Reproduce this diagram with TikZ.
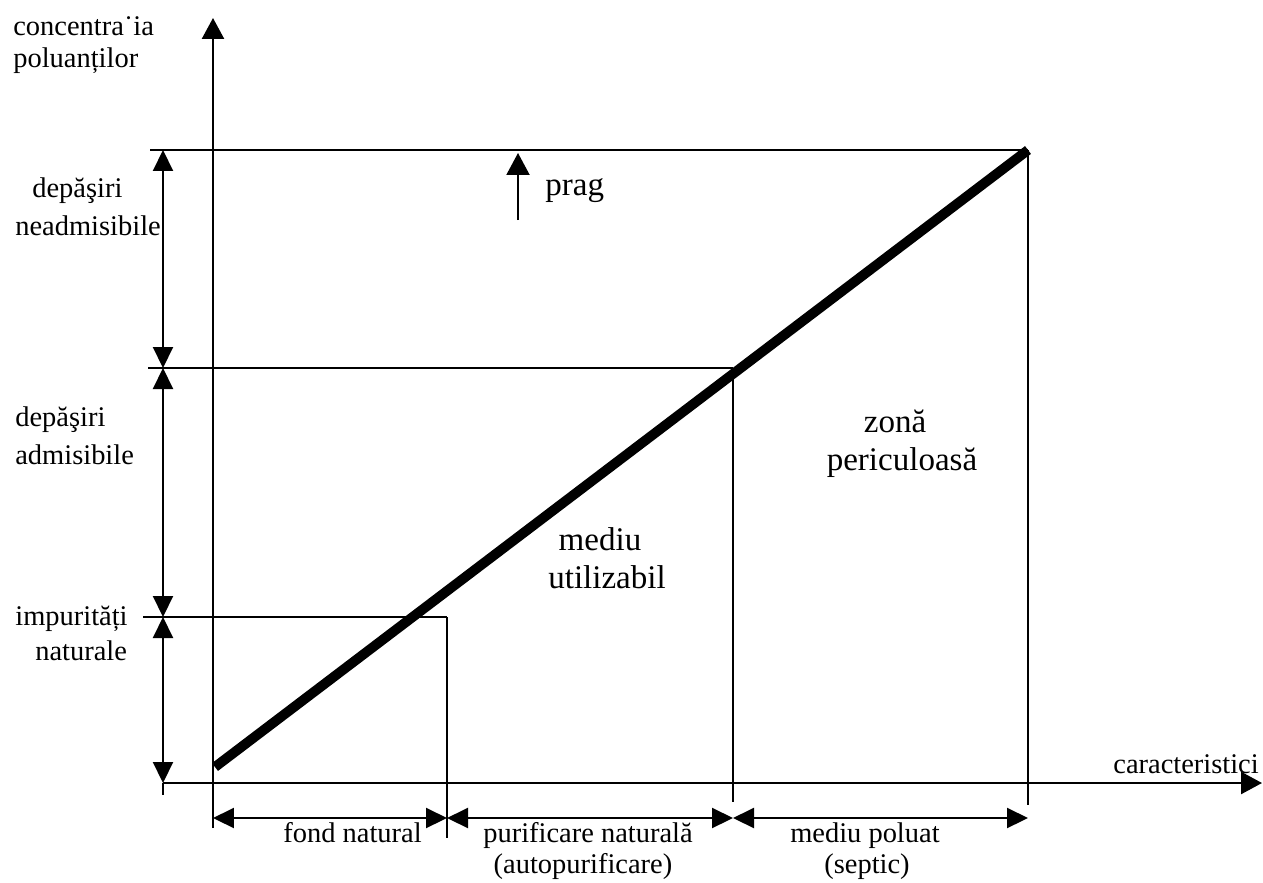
\documentclass[tikz,border=0pt]{standalone}
\usepackage{fontspec}
\setmainfont{Liberation Serif}
\usetikzlibrary{arrows.meta}
\begin{document}
\begin{tikzpicture}[x=0.02cm,y=-0.02cm,
  thinline/.style={line width=1.2pt},
  axisline/.style={line width=1.4pt,-{Triangle[length=0.42cm,width=0.44cm]}},
  dimline/.style={line width=1.2pt,{Triangle[length=0.42cm,width=0.4cm]}-{Triangle[length=0.42cm,width=0.4cm]}},
  curveline/.style={line width=5.6pt},
  lbl/.style={inner sep=0pt,font=\fontsize{16.2}{19}\selectfont},
  biglbl/.style={inner sep=0pt,font=\fontsize{18.8}{22}\selectfont}]
\useasboundingbox (0,0) rectangle (1263,882);
% axes
\coordinate (ybot) at (213,828);
\coordinate (ytop) at (213,18);
\coordinate (xl) at (163,783);
\coordinate (xr) at (1262,783);
\draw[axisline] (ybot) -- (ytop);
\draw[axisline] (xl) -- (xr);
% horizontal level lines
\coordinate (h1a) at (150,150); \coordinate (h1b) at (1028,150);
\coordinate (h2a) at (148,368); \coordinate (h2b) at (733,368);
\coordinate (h3a) at (143,617); \coordinate (h3b) at (447,617);
\draw[thinline] (h1a) -- (h1b);
\draw[thinline] (h2a) -- (h2b);
\draw[thinline] (h3a) -- (h3b);
% verticals
\coordinate (v1b) at (447,838);
\coordinate (v2b) at (733,802);
\coordinate (v3b) at (1028,805);
\draw[thinline] (h3b) -- (v1b);
\draw[thinline] (h2b) -- (v2b);
\draw[thinline] (h1b) -- (v3b);
% thick line
\coordinate (c0) at (215,767);
\draw[curveline] (c0) -- (h1b);
% left dimension line
\coordinate (L0) at (163,150);
\coordinate (L1) at (163,368);
\coordinate (L2) at (163,617);
\coordinate (L3) at (163,783);
\coordinate (L4) at (163,795);
\draw[dimline] (L1) -- (L0);
\draw[dimline] (L2) -- (L1);
\draw[dimline] (L3) -- (L2);
\draw[thinline] (L3) -- (L4);
% bottom dimension lines
\coordinate (B0) at (213,818);
\coordinate (B1) at (447,818);
\coordinate (B2) at (733,818);
\coordinate (B3) at (1028,818);
\draw[dimline] (B0) -- (B1);
\draw[dimline] (B1) -- (B2);
\draw[dimline] (B2) -- (B3);
% prag arrow
\coordinate (p0) at (518,220);
\coordinate (p1) at (518,153);
\draw[line width=1.2pt,-{Triangle[length=0.44cm,width=0.46cm]}] (p0) -- (p1);
% labels
\node[lbl,anchor=base west] (t1) at (13,36) {concentra˙ia};
\node[lbl,anchor=base west] (t2) at (13,68) {poluanților};
\node[lbl,anchor=base west] (t3) at (32,197) {depăşiri};
\node[lbl,anchor=base west] (t4) at (15,235) {neadmisibile};
\node[lbl,anchor=base west] (t5) at (15,426) {depăşiri};
\node[lbl,anchor=base west] (t6) at (15,464) {admisibile};
\node[lbl,anchor=base west] (t7) at (15,625) {impurități};
\node[lbl,anchor=base west] (t8) at (35,660) {naturale};
\node[biglbl,anchor=base west] (t9) at (545,195) {prag};
\node[biglbl,anchor=base] (t10) at (895,432) {zonă};
\node[biglbl,anchor=base] (t11) at (902,470) {periculoasă};
\node[biglbl,anchor=base] (t12) at (600,550) {mediu};
\node[biglbl,anchor=base] (t13) at (607,588) {utilizabil};
\node[lbl,anchor=base west] (t14) at (1113,773) {caracteristici};
\node[lbl,anchor=base west] (t15) at (283,842) {fond natural};
\node[lbl,anchor=base west] (t16) at (483,842) {purificare naturală};
\node[lbl,anchor=base] (t17) at (583,873) {(autopurificare)};
\node[lbl,anchor=base east] (t18) at (940,842) {mediu poluat};
\node[lbl,anchor=base] (t19) at (867,873) {(septic)};
\end{tikzpicture}
\end{document}
